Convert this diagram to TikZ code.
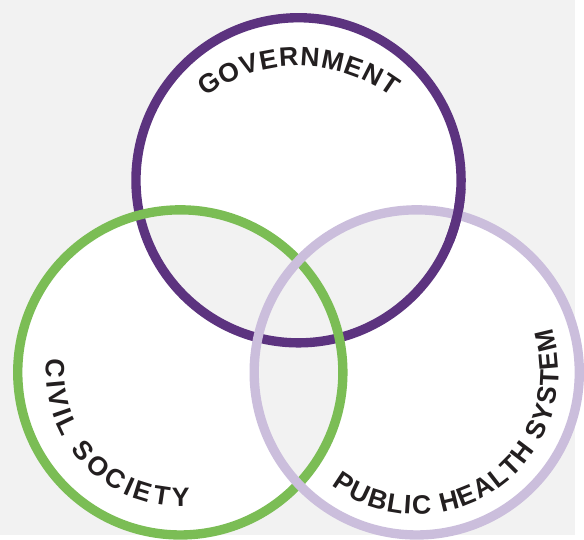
\documentclass[tikz,border=0pt]{standalone}
\usepackage{fontspec}
\setmainfont{Liberation Sans}
\usetikzlibrary{decorations.text}
\definecolor{vn-bg}{HTML}{F2F2F2}
\definecolor{vn-gov}{HTML}{5C337F}
\definecolor{vn-civ}{HTML}{7BBD55}
\definecolor{vn-pub}{HTML}{CBBEDC}
\definecolor{vn-text}{HTML}{231F20}
\newcommand{\vennlabel}{\fontsize{27}{27}\selectfont\bfseries\color{vn-text}}

\begin{document}
\begin{tikzpicture}[x=1pt, y=1pt,
    ring/.style={line width=9.5pt},
    curved/.style={decorate, decoration={text along path, text align={fit to path}, text={|\vennlabel|#1}}}]
    \fill[vn-bg] (0,0) rectangle (584,543);
    \coordinate (gov) at (303,360);
    \coordinate (civ) at (183,165);
    \coordinate (pub) at (423,165);
    \coordinate (govtext) at (303,319);
    % white discs, grey where two of them overlap
    \foreach \c in {gov,civ,pub}
        \fill[white] (\c) circle[radius=165];
    \begin{scope}
        \clip (gov) circle[radius=165];
        \fill[vn-bg] (civ) circle[radius=165];
        \fill[vn-bg] (pub) circle[radius=165];
    \end{scope}
    \begin{scope}
        \clip (civ) circle[radius=165];
        \fill[vn-bg] (pub) circle[radius=165];
    \end{scope}
    \draw[ring, vn-gov] (gov) circle[radius=165];
    \draw[ring, vn-civ] (civ) circle[radius=165];
    \draw[ring, vn-pub] (pub) circle[radius=165];
    \draw[ring, vn-gov] ([shift={(-22:165)}]gov) arc[start angle=-22, end angle=-3, radius=165];
    % labels
    \path[curved=GOVERNMENT] ([shift={(127:157)}]govtext) arc[start angle=127, end angle=53, radius=157];
    \path[curved=CIVIL SOCIETY] ([shift={(174:136)}]civ) arc[start angle=174, end angle=274, radius=136];
    \path[curved=PUBLIC HEALTH SYSTEM] ([shift={(233:144)}]pub) arc[start angle=233, end angle=378, radius=144];
\end{tikzpicture}
\end{document}
